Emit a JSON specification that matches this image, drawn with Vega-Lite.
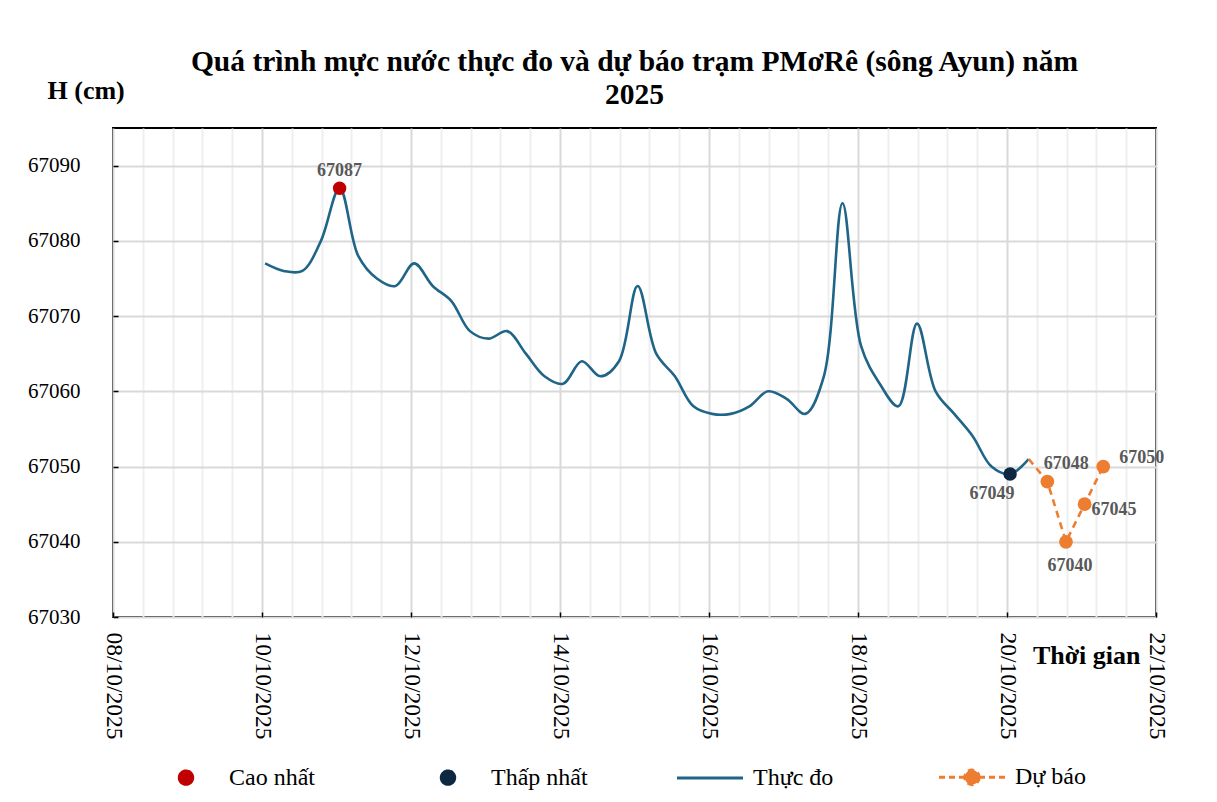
{
  "$schema": "https://vega.github.io/schema/vega-lite/v6.json",
  "autosize": {"type": "none"},
  "padding": {"left": 113, "top": 128, "right": 61, "bottom": 185},
  "width": 1043,
  "height": 489,
  "background": "white",
  "config": {
    "view": {"stroke": "black", "strokeWidth": 2},
    "font": "Liberation Serif"
  },
  "title": {
    "text": ["Quá trình mực nước thực đo và dự báo trạm PMơRê (sông Ayun) năm", "2025"],
    "font": "Liberation Serif",
    "fontSize": 29.5,
    "fontWeight": "bold",
    "color": "black",
    "anchor": "middle",
    "offset": -33,
    "lineHeight": 33
  },
  "datasets": {
    "obs": [
      {"t": "2025-10-10T01:00", "h": 67077},
      {"t": "2025-10-10T07:00", "h": 67076},
      {"t": "2025-10-10T13:00", "h": 67076},
      {"t": "2025-10-10T19:00", "h": 67080},
      {"t": "2025-10-11T01:00", "h": 67087},
      {"t": "2025-10-11T07:00", "h": 67078},
      {"t": "2025-10-11T13:00", "h": 67075},
      {"t": "2025-10-11T19:00", "h": 67074},
      {"t": "2025-10-12T01:00", "h": 67077},
      {"t": "2025-10-12T07:00", "h": 67074},
      {"t": "2025-10-12T13:00", "h": 67072},
      {"t": "2025-10-12T19:00", "h": 67068},
      {"t": "2025-10-13T01:00", "h": 67067},
      {"t": "2025-10-13T07:00", "h": 67068},
      {"t": "2025-10-13T13:00", "h": 67065},
      {"t": "2025-10-13T19:00", "h": 67062},
      {"t": "2025-10-14T01:00", "h": 67061},
      {"t": "2025-10-14T07:00", "h": 67064},
      {"t": "2025-10-14T13:00", "h": 67062},
      {"t": "2025-10-14T19:00", "h": 67064},
      {"t": "2025-10-15T01:00", "h": 67074},
      {"t": "2025-10-15T07:00", "h": 67065},
      {"t": "2025-10-15T13:00", "h": 67062},
      {"t": "2025-10-15T19:00", "h": 67058},
      {"t": "2025-10-16T01:00", "h": 67057},
      {"t": "2025-10-16T07:00", "h": 67057},
      {"t": "2025-10-16T13:00", "h": 67058},
      {"t": "2025-10-16T19:00", "h": 67060},
      {"t": "2025-10-17T01:00", "h": 67059},
      {"t": "2025-10-17T07:00", "h": 67057},
      {"t": "2025-10-17T13:00", "h": 67062},
      {"t": "2025-10-17T19:00", "h": 67085},
      {"t": "2025-10-18T01:00", "h": 67066},
      {"t": "2025-10-18T07:00", "h": 67061},
      {"t": "2025-10-18T13:00", "h": 67058},
      {"t": "2025-10-18T19:00", "h": 67069},
      {"t": "2025-10-19T01:00", "h": 67060},
      {"t": "2025-10-19T07:00", "h": 67057},
      {"t": "2025-10-19T13:00", "h": 67054},
      {"t": "2025-10-19T19:00", "h": 67050},
      {"t": "2025-10-20T01:00", "h": 67049},
      {"t": "2025-10-20T07:00", "h": 67051}
    ],
    "fcline": [
      {"t": "2025-10-20T07:00", "h": 67051},
      {"t": "2025-10-20T13:00", "h": 67048},
      {"t": "2025-10-20T19:00", "h": 67040},
      {"t": "2025-10-21T01:00", "h": 67045},
      {"t": "2025-10-21T07:00", "h": 67050}
    ],
    "fc": [
      {"t": "2025-10-20T13:00", "h": 67048},
      {"t": "2025-10-20T19:00", "h": 67040},
      {"t": "2025-10-21T01:00", "h": 67045},
      {"t": "2025-10-21T07:00", "h": 67050}
    ],
    "ext": [
      {"t": "2025-10-11T01:00", "h": 67087, "kind": "Cao nhất"},
      {"t": "2025-10-20T01:00", "h": 67049, "kind": "Thấp nhất"}
    ]
  },
  "layer": [
    {
      "data": {"name": "obs"},
      "mark": {"type": "line", "interpolate": "catmull-rom", "strokeWidth": 2.6},
      "encoding": {
        "x": {
          "field": "t", "type": "temporal",
          "scale": {"domain": [{"year": 2025, "month": 10, "date": 8}, {"year": 2025, "month": 10, "date": 22}], "nice": false},
          "axis": {
            "values": [
              {"year": 2025, "month": 10, "date": 8, "hours": 0},
              {"year": 2025, "month": 10, "date": 8, "hours": 9, "minutes": 36},
              {"year": 2025, "month": 10, "date": 8, "hours": 19, "minutes": 12},
              {"year": 2025, "month": 10, "date": 9, "hours": 4, "minutes": 48},
              {"year": 2025, "month": 10, "date": 9, "hours": 14, "minutes": 24},
              {"year": 2025, "month": 10, "date": 10, "hours": 0},
              {"year": 2025, "month": 10, "date": 10, "hours": 9, "minutes": 36},
              {"year": 2025, "month": 10, "date": 10, "hours": 19, "minutes": 12},
              {"year": 2025, "month": 10, "date": 11, "hours": 4, "minutes": 48},
              {"year": 2025, "month": 10, "date": 11, "hours": 14, "minutes": 24},
              {"year": 2025, "month": 10, "date": 12, "hours": 0},
              {"year": 2025, "month": 10, "date": 12, "hours": 9, "minutes": 36},
              {"year": 2025, "month": 10, "date": 12, "hours": 19, "minutes": 12},
              {"year": 2025, "month": 10, "date": 13, "hours": 4, "minutes": 48},
              {"year": 2025, "month": 10, "date": 13, "hours": 14, "minutes": 24},
              {"year": 2025, "month": 10, "date": 14, "hours": 0},
              {"year": 2025, "month": 10, "date": 14, "hours": 9, "minutes": 36},
              {"year": 2025, "month": 10, "date": 14, "hours": 19, "minutes": 12},
              {"year": 2025, "month": 10, "date": 15, "hours": 4, "minutes": 48},
              {"year": 2025, "month": 10, "date": 15, "hours": 14, "minutes": 24},
              {"year": 2025, "month": 10, "date": 16, "hours": 0},
              {"year": 2025, "month": 10, "date": 16, "hours": 9, "minutes": 36},
              {"year": 2025, "month": 10, "date": 16, "hours": 19, "minutes": 12},
              {"year": 2025, "month": 10, "date": 17, "hours": 4, "minutes": 48},
              {"year": 2025, "month": 10, "date": 17, "hours": 14, "minutes": 24},
              {"year": 2025, "month": 10, "date": 18, "hours": 0},
              {"year": 2025, "month": 10, "date": 18, "hours": 9, "minutes": 36},
              {"year": 2025, "month": 10, "date": 18, "hours": 19, "minutes": 12},
              {"year": 2025, "month": 10, "date": 19, "hours": 4, "minutes": 48},
              {"year": 2025, "month": 10, "date": 19, "hours": 14, "minutes": 24},
              {"year": 2025, "month": 10, "date": 20, "hours": 0},
              {"year": 2025, "month": 10, "date": 20, "hours": 9, "minutes": 36},
              {"year": 2025, "month": 10, "date": 20, "hours": 19, "minutes": 12},
              {"year": 2025, "month": 10, "date": 21, "hours": 4, "minutes": 48},
              {"year": 2025, "month": 10, "date": 21, "hours": 14, "minutes": 24},
              {"year": 2025, "month": 10, "date": 22, "hours": 0}
            ],
            "tickCount": 200,
            "labelExpr": "hours(datum.value) == 0 ? timeFormat(datum.value, '%d/%m/%Y') : ''",
            "labelAngle": 90,
            "labelFlush": false,
            "labelOverlap": false,
            "labelBound": false,
            "labelFont": "Liberation Serif",
            "labelFontSize": 23.5,
            "labelColor": "black",
            "labelPadding": 20,
            "domain": false,
            "grid": true,
            "gridColor": {"condition": {"test": "hours(datum.value) == 0", "value": "#d9d9d9"}, "value": "#efefef"},
            "gridWidth": 2,
            "ticks": true,
            "tickSize": -5,
            "tickWidth": 1.5,
            "tickColor": {"condition": {"test": "hours(datum.value) == 0", "value": "black"}, "value": "transparent"},
            "title": "Thời gian",
            "titleFont": "Liberation Serif",
            "titleFontSize": 26,
            "titleFontWeight": "bold",
            "titleColor": "black",
            "titleAngle": 0,
            "titleAlign": "right",
            "titleBaseline": "middle",
            "titleX": 1027,
            "titleY": 38
          }
        },
        "y": {
          "field": "h", "type": "quantitative",
          "scale": {"domain": [67030, 67095], "nice": false, "zero": false},
          "axis": {
            "values": [67030, 67040, 67050, 67060, 67070, 67080, 67090],
            "format": "d",
            "labelFont": "Liberation Serif",
            "labelFontSize": 21,
            "labelColor": "black",
            "labelPadding": 38,
            "domain": false,
            "grid": true,
            "gridColor": "#d9d9d9",
            "gridWidth": 2,
            "tickSize": -5,
            "tickWidth": 1.5,
            "tickColor": "black",
            "title": "H (cm)",
            "titleFont": "Liberation Serif",
            "titleFontSize": 26,
            "titleFontWeight": "bold",
            "titleColor": "black",
            "titleAngle": 0,
            "titleAlign": "left",
            "titleBaseline": "middle",
            "titleX": -66,
            "titleY": -38
          }
        },
        "color": {
          "datum": "Thực đo",
          "type": "nominal",
          "title": null,
          "scale": {
            "domain": ["Cao nhất", "Thấp nhất", "Thực đo", "Dự báo"],
            "range": ["#C00000", "#0E2841", "#1F6587", "#ED7D31"]
          },
          "legend": {
            "title": null,
            "orient": "none",
            "legendX": 61,
            "legendY": 637,
            "direction": "horizontal",
            "columns": 4,
            "gridAlign": "all",
            "columnPadding": 83,
            "symbolSize": 4356,
            "labelOffset": 31,
            "labelFont": "Liberation Serif",
            "labelFontSize": 24,
            "labelColor": "black",
            "labelLimit": 300,
            "encode": {
              "symbols": {
                "update": {
                  "shape": {"signal": "datum.value === 'Thực đo' ? 'M-1,0L1,0' : datum.value === 'Dự báo' ? 'M-1,0L1,0M0.22,0A0.22,0.22,0,1,1,-0.22,0A0.22,0.22,0,1,1,0.22,0Z' : 'circle'"},
                  "size": {"signal": "datum.value === 'Thực đo' || datum.value === 'Dự báo' ? 4356 : 180"},
                  "fill": {"signal": "datum.value === 'Cao nhất' ? '#C00000' : datum.value === 'Thấp nhất' ? '#0E2841' : datum.value === 'Dự báo' ? '#ED7D31' : 'transparent'"},
                  "stroke": {"signal": "datum.value === 'Thực đo' ? '#1F6587' : datum.value === 'Dự báo' ? '#ED7D31' : 'transparent'"},
                  "strokeWidth": {"value": 3},
                  "strokeDash": {"signal": "datum.value === 'Dự báo' ? [6, 4] : [1, 0]"},
                  "opacity": {"value": 1},
                  "fillOpacity": {"value": 1}
                }
              }
            }
          }
        }
      }
    },
    {
      "data": {"name": "fcline"},
      "mark": {"type": "line", "strokeWidth": 2.6, "strokeDash": [7, 5]},
      "encoding": {
        "x": {"field": "t", "type": "temporal"},
        "y": {"field": "h", "type": "quantitative"},
        "color": {"datum": "Dự báo", "type": "nominal", "title": null}
      }
    },
    {
      "data": {"name": "fc"},
      "mark": {"type": "point", "filled": true, "size": 190, "opacity": 1},
      "encoding": {
        "x": {"field": "t", "type": "temporal"},
        "y": {"field": "h", "type": "quantitative"},
        "color": {"datum": "Dự báo", "type": "nominal", "title": null}
      }
    },
    {
      "data": {"name": "ext"},
      "mark": {"type": "point", "filled": true, "size": 180, "opacity": 1},
      "encoding": {
        "x": {"field": "t", "type": "temporal"},
        "y": {"field": "h", "type": "quantitative"},
        "color": {"field": "kind", "type": "nominal", "title": null}
      }
    },
    {
      "data": {"name": "ext"},
      "transform": [{"filter": "datum.kind === 'Cao nhất'"}],
      "mark": {"type": "text", "dy": -17, "font": "Liberation Serif", "fontSize": 18, "fontWeight": "bold", "color": "#595959"},
      "encoding": {
        "x": {"field": "t", "type": "temporal"},
        "y": {"field": "h", "type": "quantitative"},
        "text": {"field": "h", "type": "quantitative", "format": "d"}
      }
    },
    {
      "data": {"name": "ext"},
      "transform": [{"filter": "datum.kind === 'Thấp nhất'"}],
      "mark": {"type": "text", "dx": -18, "dy": 20, "font": "Liberation Serif", "fontSize": 18, "fontWeight": "bold", "color": "#595959"},
      "encoding": {
        "x": {"field": "t", "type": "temporal"},
        "y": {"field": "h", "type": "quantitative"},
        "text": {"field": "h", "type": "quantitative", "format": "d"}
      }
    },
    {
      "data": {"name": "fc"},
      "transform": [{"filter": "datum.h === 67048"}],
      "mark": {"type": "text", "dx": 19, "dy": -18, "font": "Liberation Serif", "fontSize": 18, "fontWeight": "bold", "color": "#595959"},
      "encoding": {
        "x": {"field": "t", "type": "temporal"},
        "y": {"field": "h", "type": "quantitative"},
        "text": {"field": "h", "type": "quantitative", "format": "d"}
      }
    },
    {
      "data": {"name": "fc"},
      "transform": [{"filter": "datum.h === 67040"}],
      "mark": {"type": "text", "dx": 4, "dy": 24, "font": "Liberation Serif", "fontSize": 18, "fontWeight": "bold", "color": "#595959"},
      "encoding": {
        "x": {"field": "t", "type": "temporal"},
        "y": {"field": "h", "type": "quantitative"},
        "text": {"field": "h", "type": "quantitative", "format": "d"}
      }
    },
    {
      "data": {"name": "fc"},
      "transform": [{"filter": "datum.h === 67045"}],
      "mark": {"type": "text", "align": "left", "dx": 7, "dy": 6, "font": "Liberation Serif", "fontSize": 18, "fontWeight": "bold", "color": "#595959"},
      "encoding": {
        "x": {"field": "t", "type": "temporal"},
        "y": {"field": "h", "type": "quantitative"},
        "text": {"field": "h", "type": "quantitative", "format": "d"}
      }
    },
    {
      "data": {"name": "fc"},
      "transform": [{"filter": "datum.h === 67050"}],
      "mark": {"type": "text", "align": "left", "dx": 16, "dy": -9, "font": "Liberation Serif", "fontSize": 18, "fontWeight": "bold", "color": "#595959"},
      "encoding": {
        "x": {"field": "t", "type": "temporal"},
        "y": {"field": "h", "type": "quantitative"},
        "text": {"field": "h", "type": "quantitative", "format": "d"}
      }
    }
  ]
}
